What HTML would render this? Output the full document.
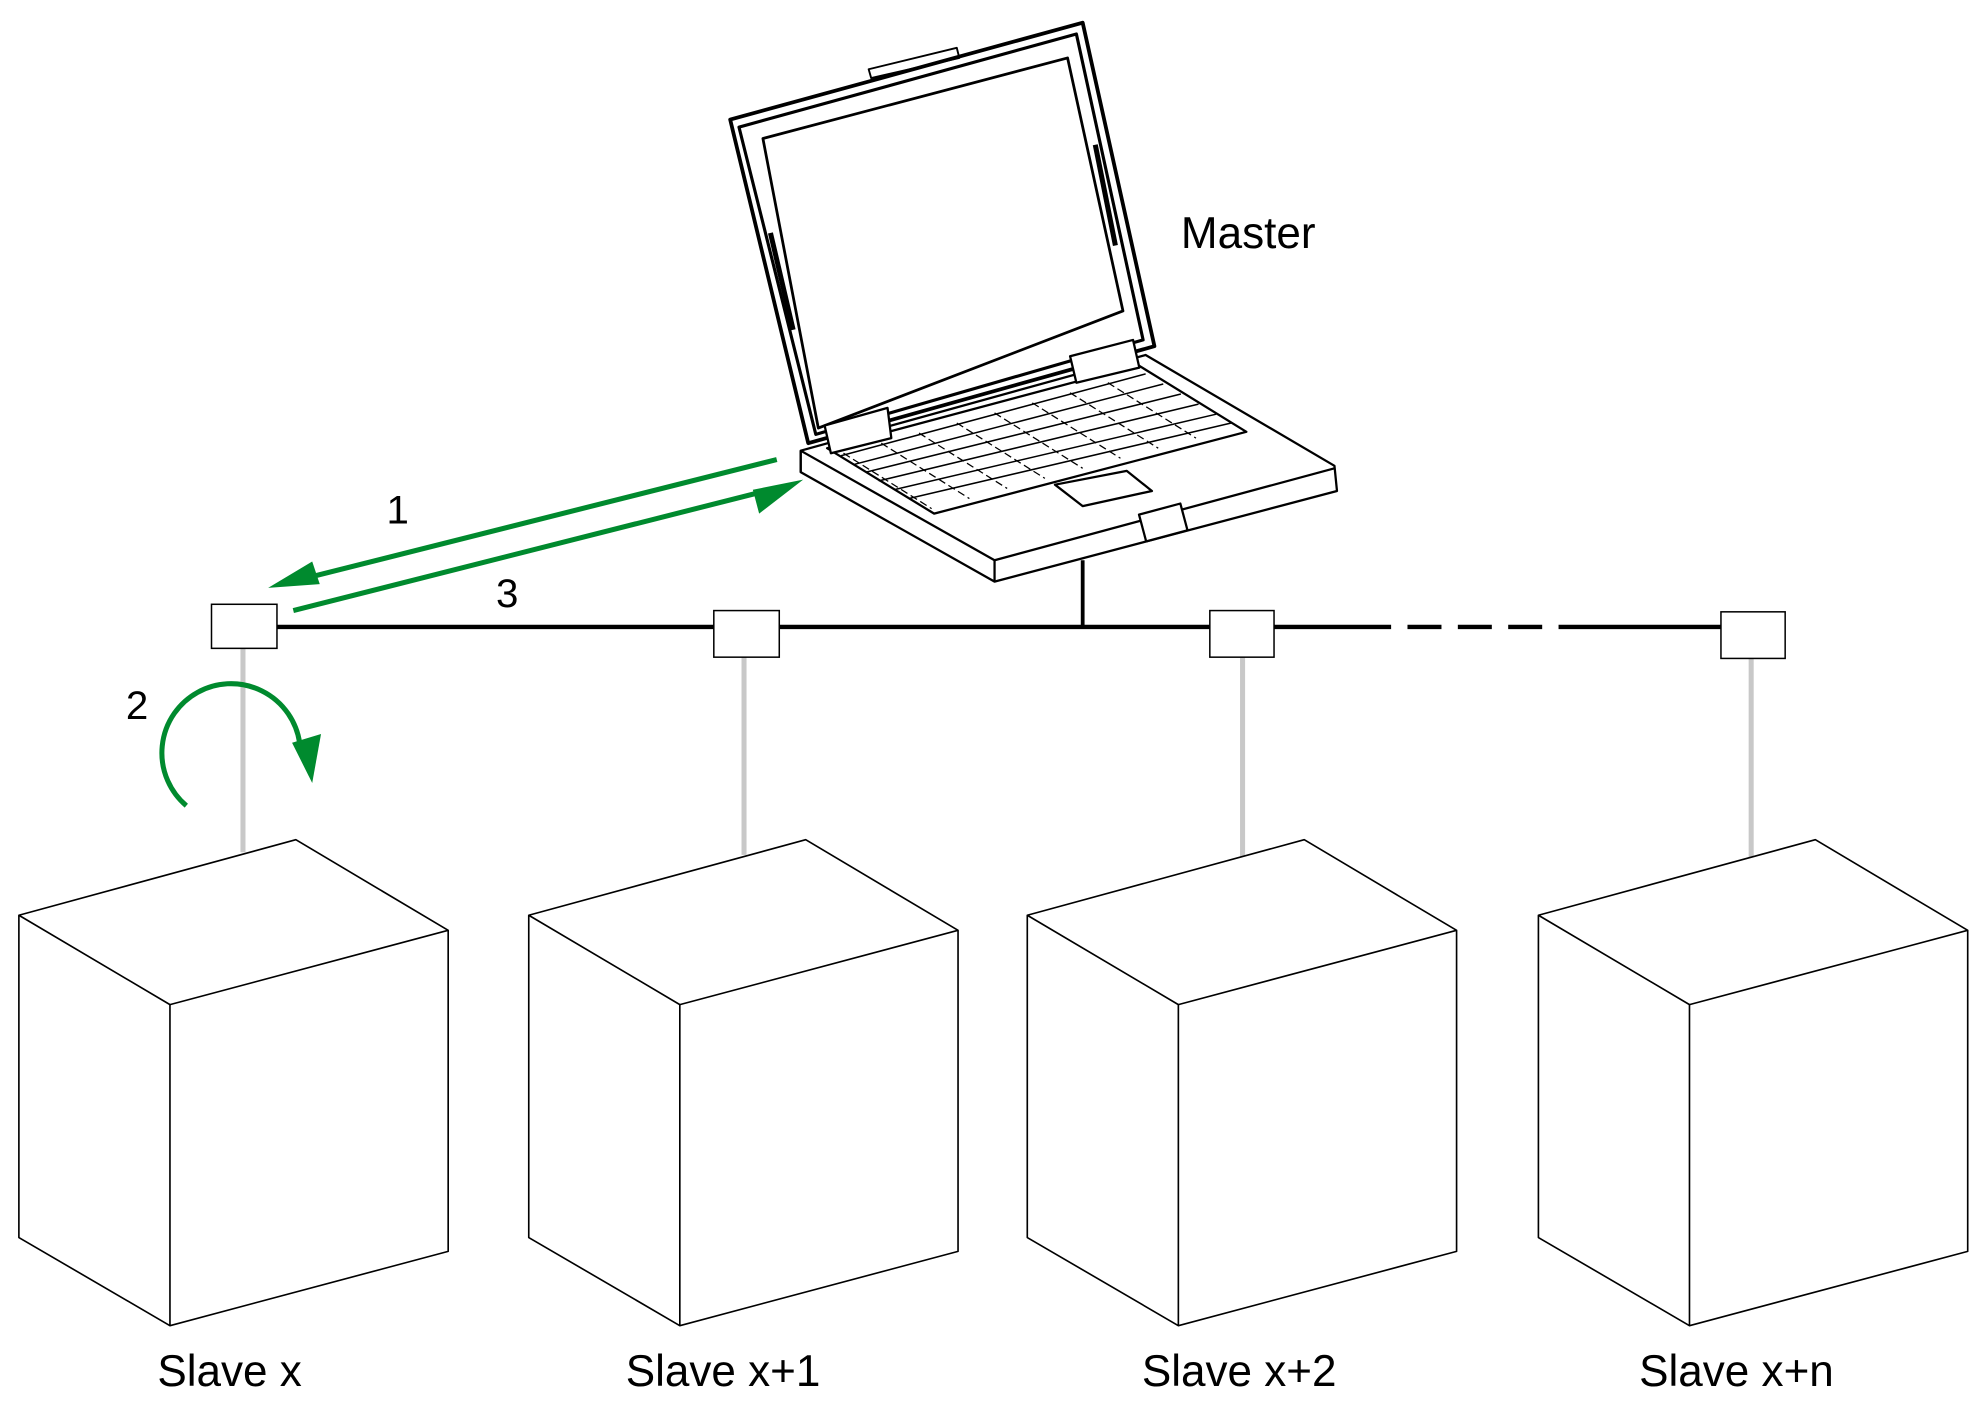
<!DOCTYPE html>
<html><head><meta charset="utf-8"><style>
html,body{margin:0;padding:0;background:#fff;}
svg{display:block;}
text{font-family:"Liberation Sans",Arial,sans-serif;fill:#000;}
</style></head><body>
<svg width="1974" height="1410" viewBox="0 0 1568 1120" xmlns="http://www.w3.org/2000/svg">
<defs>
<g id="cube" fill="#fff" stroke="#000" stroke-width="1.3" stroke-linejoin="round">
<polygon points="15,727 235,667 356,739 356,994 135,1053 15,983"/>
<polyline points="15,727 135,798 356,739" fill="none"/>
<line x1="135" y1="798" x2="135" y2="1053"/>
</g>
</defs>
<g stroke="#c8c8c8" stroke-width="4">
<line x1="193" y1="515" x2="193" y2="677"/>
<line x1="591" y1="522" x2="591" y2="679"/>
<line x1="987" y1="522" x2="987" y2="681"/>
<line x1="1391" y1="523" x2="1391" y2="681"/>
</g>
<use href="#cube"/>
<use href="#cube" x="405"/>
<use href="#cube" x="801"/>
<use href="#cube" x="1207"/>
<g stroke="#000" stroke-width="3.5">
<line x1="220" y1="498" x2="1105" y2="498"/>
<line x1="1118" y1="498" x2="1145" y2="498"/>
<line x1="1158" y1="498" x2="1185" y2="498"/>
<line x1="1198" y1="498" x2="1225" y2="498"/>
<line x1="1238" y1="498" x2="1367" y2="498"/>
<line x1="860" y1="445" x2="860" y2="498" stroke-width="3"/>
</g>
<g fill="#fff" stroke="#000" stroke-width="1.2">
<rect x="168" y="480" width="52" height="35"/>
<rect x="567" y="485" width="52" height="37"/>
<rect x="961" y="485" width="51" height="37"/>
<rect x="1367" y="486" width="51" height="37"/>
</g>
<g stroke="#008a2e" stroke-width="4" fill="none">
<line x1="617" y1="365" x2="240" y2="460"/>
<line x1="233" y1="485" x2="612" y2="389"/>
<path d="M148,640 A55,55 0 1 1 238,590"/>
</g>
<g fill="#008a2e">
<polygon points="213,467 248,446 254,464"/>
<polygon points="638,381 603,408 598,389"/>
<polygon points="248,622 232,590 255,583"/>
</g>
<text x="307" y="416" font-size="32">1</text>
<text x="394" y="482" font-size="32">3</text>
<text x="100" y="571" font-size="32">2</text>
<text x="938" y="197" font-size="35">Master</text>
<text x="125" y="1101" font-size="35">Slave x</text>
<text x="497" y="1101" font-size="35">Slave x+1</text>
<text x="907" y="1101" font-size="35">Slave x+2</text>
<text x="1302" y="1101" font-size="35">Slave x+n</text>
<g stroke="#000" stroke-width="1.8" fill="#fff" stroke-linejoin="round">
<polygon points="636,358 910,282 1060,370 1062,390 790,462 636,375"/>
<polyline points="636,358 636,375" fill="none"/>
<polyline points="790,445 1060,372" fill="none"/>
<line x1="636" y1="358" x2="790" y2="445"/>
<line x1="790" y1="445" x2="790" y2="462"/>
<polygon points="580,95 860,18 917,275 642,352" stroke-width="3"/>
<polygon points="587,101 855,27 908,270 648,345" fill="none" stroke-width="2.5"/>
<polygon points="606,110 848,46 892,247 650,340" stroke-width="2.2"/>
<polygon points="657,356 904,290 990,343 742,408"/>
<polygon points="838,385 895,374 915,390 860,402"/>
<rect x="907" y="404" width="34" height="22" transform="rotate(-15 924 415)"/>
<polygon points="655,338 705,324 708,348 660,360"/>
<polygon points="850,283 900,270 905,292 855,304"/>
<polygon points="690,55 760,38 762,46 692,62" fill="none" stroke-width="1.5"/>
<line x1="612" y1="185" x2="630" y2="262" stroke-width="4"/>
<line x1="870" y1="115" x2="886" y2="195" stroke-width="4"/>
</g>
<g stroke="#000" stroke-width="1.2" fill="none">
<line x1="668" y1="362" x2="910" y2="297"/>
<line x1="678" y1="369" x2="924" y2="305"/>
<line x1="688" y1="375" x2="938" y2="313"/>
<line x1="698" y1="382" x2="952" y2="321"/>
<line x1="710" y1="389" x2="966" y2="329"/>
<line x1="722" y1="396" x2="978" y2="336"/>
</g>
<g stroke="#000" stroke-width="1" stroke-dasharray="6,3">
<line x1="670" y1="360" x2="740" y2="404"/>
<line x1="700" y1="352" x2="770" y2="396"/>
<line x1="730" y1="344" x2="800" y2="388"/>
<line x1="760" y1="336" x2="830" y2="380"/>
<line x1="790" y1="328" x2="860" y2="372"/>
<line x1="820" y1="320" x2="890" y2="364"/>
<line x1="850" y1="312" x2="920" y2="356"/>
<line x1="880" y1="304" x2="950" y2="348"/>
</g>
</svg>
</body></html>
